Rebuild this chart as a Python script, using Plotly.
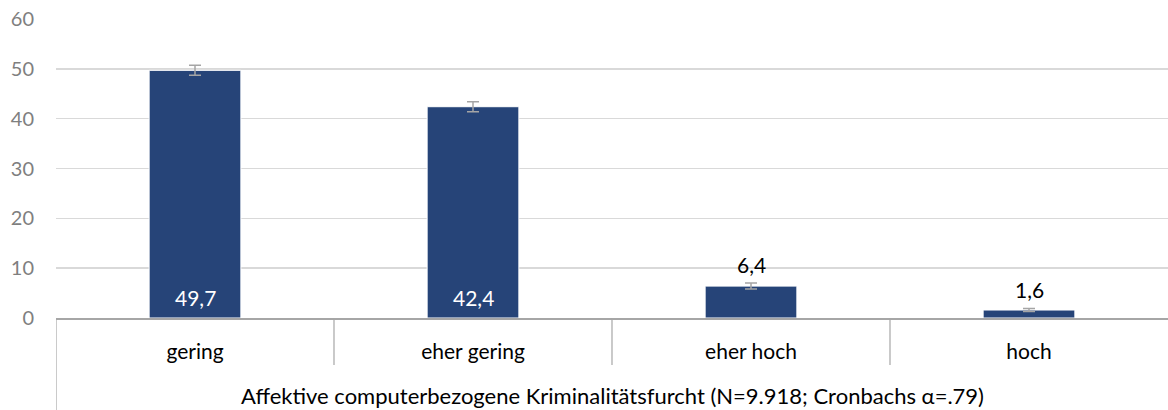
import plotly.graph_objects as go

categories = ["gering", "eher gering", "eher hoch", "hoch"]
values = [49.7, 42.4, 6.4, 1.6]
errors = [1.0, 1.0, 0.6, 0.3]
value_labels = ["49,7", "42,4", "6,4", "1,6"]
label_inside = [True, True, False, False]
group_label = "Affektive computerbezogene Kriminalitätsfurcht (N=9.918; Cronbachs α=.79)"
y_ticks = [0, 10, 20, 30, 40, 50, 60]

FONT = "Lato, 'Open Sans', sans-serif"
W, H = 1168, 410
ML, MR, MT, MB = 56, 0, 19, 92
plot_h = H - MT - MB
TXT = 21

fig = go.Figure()
fig.add_trace(go.Bar(
    x=categories, y=values,
    marker=dict(color="#264478", line=dict(color="white", width=1)),
    width=0.33,
    error_y=dict(type="data", array=errors, visible=True, color="#a5a5a5", thickness=1.5, width=6),
    hoverinfo="skip",
))

annotations = []
for cat, v, e, lab, inside in zip(categories, values, errors, value_labels, label_inside):
    if inside:
        annotations.append(dict(x=cat, y=0, xref="x", yref="y", text=lab, showarrow=False,
                                yanchor="middle", yshift=21,
                                font=dict(family=FONT, size=TXT, color="white")))
    else:
        annotations.append(dict(x=cat, y=v + e, xref="x", yref="y", text=lab, showarrow=False,
                                yanchor="middle", yshift=19,
                                font=dict(family=FONT, size=TXT, color="black")))

annotations.append(dict(x=0.5, y=-(395 - (H - MB)) / plot_h, xref="paper", yref="paper",
                        text=group_label, showarrow=False, yanchor="middle",
                        font=dict(family=FONT, size=22, color="black")))

n = len(categories)
shapes = []
# left boundary line of category axis
shapes.append(dict(type="line", xref="x", yref="paper", x0=-0.5, x1=-0.5,
                   y0=0, y1=-MB / plot_h, line=dict(color="#a6a6a6", width=1.2)))
for i in range(1, n):
    shapes.append(dict(type="line", xref="x", yref="paper", x0=i - 0.5, x1=i - 0.5,
                       y0=0, y1=-(365 - (H - MB)) / plot_h, line=dict(color="#a6a6a6", width=1.2)))

fig.update_layout(
    width=W, height=H,
    margin=dict(l=ML, r=MR, t=MT, b=MB, autoexpand=False),
    plot_bgcolor="white", paper_bgcolor="white",
    showlegend=False,
    bargap=0.67,
    annotations=annotations,
    shapes=shapes,
    font=dict(family=FONT),
)
fig.update_xaxes(
    range=[-0.5, n - 0.5], automargin=False,
    showline=True, linecolor="#a6a6a6", linewidth=1.5,
    showgrid=False, ticks="",
    tickfont=dict(family=FONT, size=TXT, color="black"),
    ticklabelstandoff=14,
)
fig.update_yaxes(
    range=[0, 60], tickvals=y_ticks, automargin=False,
    showgrid=True, gridcolor="#d9d9d9", gridwidth=1.5,
    zeroline=False, showline=False,
    tickfont=dict(family=FONT, size=20, color="#7f7f7f"),
    ticklabelstandoff=21,
)

fig.write_html("out.html", config={"displayModeBar": False, "staticPlot": True},
               post_script="document.body.style.margin='0';document.body.style.overflow='hidden';")
